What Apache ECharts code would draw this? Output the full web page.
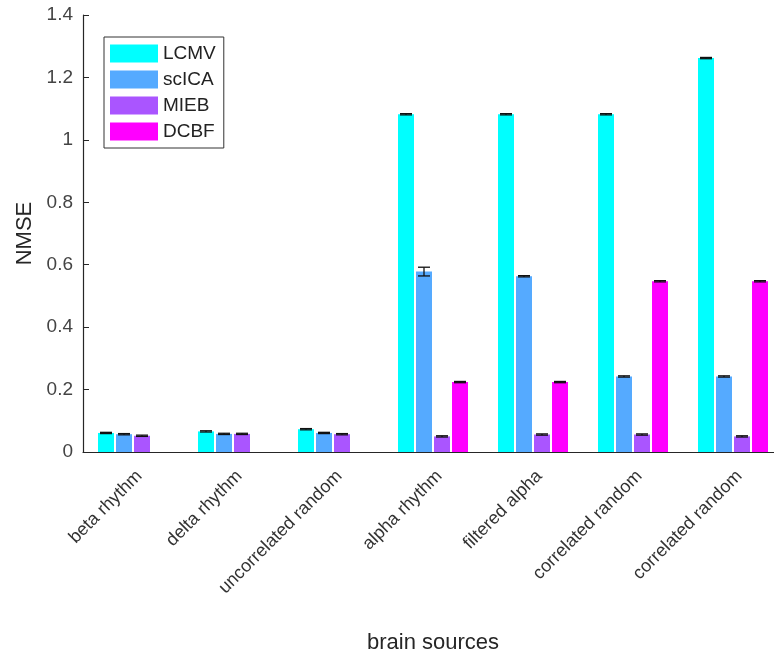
<!DOCTYPE html>
<html>
<head>
<meta charset="utf-8">
<script src="https://cdn.jsdelivr.net/npm/echarts@6/dist/echarts.min.js"></script>
<style>
html,body{margin:0;padding:0;background:#fff;overflow:hidden;width:774px;height:659px;}
#chart{width:790px;height:659px;}
</style>
</head>
<body>
<div id="chart"></div>
<script>
var categories = ['beta rhythm', 'delta rhythm', 'uncorrelated random', 'alpha rhythm', 'filtered alpha', 'correlated random', 'correlated random'];
var seriesNames = ['LCMV', 'scICA', 'MIEB', 'DCBF'];
var lcmv  = [0.061, 0.066, 0.073, 1.082, 1.082, 1.082, 1.262];
var scica = [0.057, 0.058, 0.061, 0.578, 0.563, 0.242, 0.242];
var mieb  = [0.052, 0.058, 0.057, 0.050, 0.056, 0.056, 0.050];
var dcbf  = [null, null, null, 0.224, 0.224, 0.547, 0.547];
var lcmvErr  = [0.002, 0.002, 0.002, 0.002, 0.002, 0.002, 0.002];
var scicaErr = [0.002, 0.002, 0.002, 0.014, 0.002, 0.002, 0.002];
var miebErr  = [0.002, 0.002, 0.002, 0.002, 0.002, 0.002, 0.002];
var dcbfErr  = [null, null, null, 0.002, 0.002, 0.002, 0.002];
var yTicks = [0, 0.2, 0.4, 0.6, 0.8, 1, 1.2, 1.4];
var colors = ['#00FFFF', '#55AAFF', '#AA55FF', '#FF00FF'];

var values = [lcmv, scica, mieb, dcbf];
var errs = [lcmvErr, scicaErr, miebErr, dcbfErr];
var BW = 16, GAP = 2;

var series = [];
values.forEach(function (v, i) {
  series.push({
    name: seriesNames[i], type: 'bar', data: v,
    barWidth: BW, barGap: (GAP / BW * 100) + '%',
    itemStyle: { color: colors[i] },
    silent: true, z: 2
  });
});
values.forEach(function (v, i) {
  var d = [];
  v.forEach(function (val, k) { if (val != null) d.push([k, val, errs[i][k]]); });
  series.push({
    type: 'custom', z: 5, silent: true,
    data: d,
    renderItem: function (params, api) {
      var k = api.value(0), val = api.value(1), e = api.value(2);
      var c = api.coord([k, val]);
      var hi = api.coord([k, val + e]);
      var lo = api.coord([k, val - e]);
      var x = c[0] + (i - 1.5) * (BW + GAP);
      var hw = 6;
      var st = { stroke: '#111', lineWidth: 1.3 };
      return { type: 'group', children: [
        { type: 'line', shape: { x1: x, y1: hi[1], x2: x, y2: lo[1] }, style: st },
        { type: 'line', shape: { x1: x - hw, y1: hi[1], x2: x + hw, y2: hi[1] }, style: st },
        { type: 'line', shape: { x1: x - hw, y1: lo[1], x2: x + hw, y2: lo[1] }, style: st }
      ]};
    }
  });
});

var chart = echarts.init(document.getElementById('chart'));
chart.setOption({
  animation: false,
  grid: { left: 83, top: 15, right: 7, bottom: 206, containLabel: false },
  legend: {
    data: seriesNames, orient: 'vertical', left: 104, top: 37,
    icon: 'rect', itemWidth: 48, itemHeight: 18, itemGap: 7,
    padding: [7, 8, 7, 6], borderColor: '#333', borderWidth: 1,
    backgroundColor: '#fff',
    textStyle: { fontFamily: 'Liberation Sans, Arial', fontSize: 19, color: '#222' }
  },
  xAxis: {
    type: 'category', data: categories,
    axisLine: { show: true, lineStyle: { color: '#262626', width: 1.2 } },
    axisTick: { show: false },
    axisLabel: { rotate: 45, interval: 0, margin: 15, fontSize: 18, color: '#333', verticalAlign: 'top', fontFamily: 'Liberation Sans, Arial' },
    name: 'brain sources', nameLocation: 'middle', nameGap: 180,
    nameTextStyle: { fontSize: 22, color: '#262626', fontFamily: 'Liberation Sans, Arial' }
  },
  yAxis: {
    type: 'value', min: 0, max: 1.4, interval: 0.2,
    axisLine: { show: true, lineStyle: { color: '#262626', width: 1.2 } },
    axisTick: { show: true, inside: true, length: 6, lineStyle: { color: '#262626' } },
    splitLine: { show: false },
    axisLabel: { margin: 10, fontSize: 19, color: '#444', fontFamily: 'Liberation Sans, Arial',
      formatter: function (v) { return String(+v.toFixed(1)); } },
    name: 'NMSE', nameLocation: 'middle', nameGap: 44, nameRotate: 90,
    nameTextStyle: { fontSize: 22, color: '#262626', fontFamily: 'Liberation Sans, Arial' }
  },
  series: series
});
</script>
</body>
</html>
